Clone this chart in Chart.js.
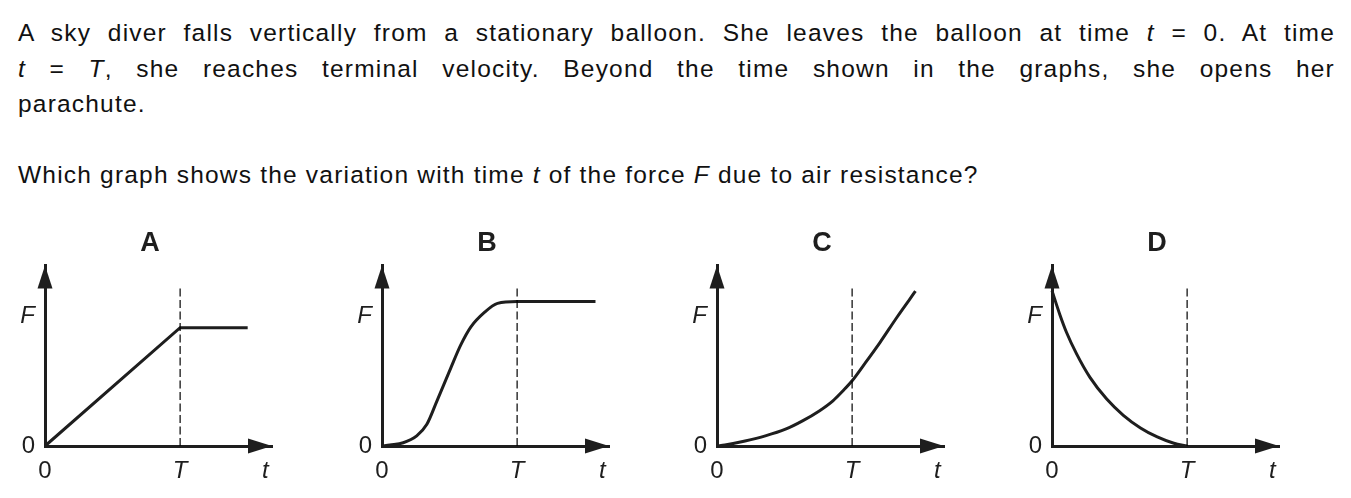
<html>
<head>
    <meta name="viewport" content="width=device-width, initial-scale=1.0">
    <title>Sky diver - air resistance graphs</title>
    <style>
        body { margin: 0; background: #fff; width: 1351px; height: 498px; position: relative; overflow: hidden; }
        .q { position: absolute; left: 18px; width: 1317px; font-family: "Liberation Sans", Arial, sans-serif; font-size: 24.5px; letter-spacing: 1.2px; line-height: 35.5px; color: #111; }
        .q div { white-space: nowrap; }
        .j { text-align: justify; text-align-last: justify; }
        .panel { position: absolute; top: 220px; }
    </style>
</head>
<body>
    <div class="q" style="top:15px">
        <div class="j">A sky diver falls vertically from a stationary balloon. She leaves the balloon at time <i>t</i> = 0. At time</div>
        <div class="j"><i>t</i> = <i>T</i>, she reaches terminal velocity. Beyond the time shown in the graphs, she opens her</div>
        <div>parachute.</div>
    </div>
    <div class="q" style="top:157px">
        <div>Which graph shows the variation with time <i>t</i> of the force <i>F</i> due to air resistance?</div>
    </div>
    <canvas class="panel" id="chartA" width="300" height="278" style="left:0px"></canvas>
    <canvas class="panel" id="chartB" width="300" height="278" style="left:337px"></canvas>
    <canvas class="panel" id="chartC" width="300" height="278" style="left:672px"></canvas>
    <canvas class="panel" id="chartD" width="300" height="278" style="left:1007px"></canvas>
</body>
<script src="https://cdn.jsdelivr.net/npm/chart.js"></script>
<script>
    // time in units of T, force in arbitrary units (axis top = 10)
    const timeTicks = [0, 1, 1.63]
    const timeLabels = ['0', 'T', 't']
    const forceTicks = [0, 7.2]
    const forceLabels = ['0', 'F']
    const termTime = [1, 1]
    const termLine = [0, 8.8]

    const aTime = [0, 1, 1.5]
    const aForce = [0, 6.55, 6.55]

    const bTime = [0, 0.058, 0.157, 0.257, 0.332, 0.407, 0.508, 0.583, 0.658, 0.758, 0.855, 1, 1.58]
    const bForce = [0, 0.06, 0.18, 0.56, 1.2, 2.5, 4.3, 5.6, 6.6, 7.4, 7.9, 8.0, 8.0]

    const cTime = [0, 0.058, 0.208, 0.358, 0.507, 0.633, 0.757, 0.858, 0.933, 1, 1.082, 1.207, 1.332, 1.469]
    const cForce = [0, 0.06, 0.28, 0.56, 0.93, 1.39, 1.94, 2.5, 3.06, 3.61, 4.44, 5.74, 7.13, 8.57]

    const dTime = [0, 0.057, 0.107, 0.182, 0.281, 0.405, 0.528, 0.655, 0.779, 0.902, 1]
    const dForce = [8.6, 7.3, 6.3, 5.1, 3.8, 2.6, 1.7, 1.0, 0.5, 0.15, 0]

    const INK = '#1e1e1e'
    const FONT = '"Liberation Sans", Arial, sans-serif'

    const pts = (xs, ys) => xs.map((x, i) => ({ x: x, y: ys[i] }))

    // arrow heads at the ends of both axes
    const arrows = {
        id: 'arrows',
        afterLayout(chart) {
            // y scale is narrow (for title centring), let its labels use the left padding
            chart.scales.y.left = 0
        },
        afterDraw(chart) {
            const c = chart.ctx
            const xs = chart.scales.x, ys = chart.scales.y
            const ox = xs.getPixelForValue(xs.min), oy = ys.getPixelForValue(ys.min)
            const tx = xs.getPixelForValue(xs.max), ty = ys.getPixelForValue(ys.max)
            c.save()
            c.fillStyle = INK
            c.beginPath()
            c.moveTo(ox, ty)
            c.lineTo(ox - 7.5, ty + 23)
            c.lineTo(ox + 7.5, ty + 23)
            c.closePath()
            c.fill()
            c.beginPath()
            c.moveTo(tx, oy)
            c.lineTo(tx - 24, oy - 7.5)
            c.lineTo(tx - 24, oy + 7.5)
            c.closePath()
            c.fill()
            c.restore()
        }
    }

    const draw = (id, title, xs, ys, smooth) => {
        const ctx = document.getElementById(id).getContext('2d')
        new Chart(ctx, {
            type: 'line',
            data: {
                datasets: [{
                    data: pts(termTime, termLine),
                    borderColor: '#000',
                    borderWidth: 1.2,
                    borderDash: [8, 3.5],
                    pointRadius: 0,
                    tension: 0
                }, {
                    data: pts(xs, ys),
                    borderColor: INK,
                    borderWidth: 3,
                    pointRadius: 0,
                    cubicInterpolationMode: smooth ? 'monotone' : 'default',
                    tension: 0,
                    clip: false
                }]
            },
            options: {
                responsive: false,
                animation: false,
                devicePixelRatio: 1,
                layout: { padding: { top: 0, right: 28, left: 28, bottom: 0 } },
                plugins: {
                    legend: { display: false },
                    tooltip: { enabled: false },
                    title: {
                        display: true,
                        text: title,
                        color: INK,
                        font: { family: FONT, size: 27, weight: 'bold', lineHeight: 1.2 },
                        padding: { top: 7, bottom: 6 }
                    }
                },
                scales: {
                    x: {
                        type: 'linear',
                        min: 0,
                        max: 1.68,
                        grid: { display: false, drawTicks: false },
                        border: { display: true, color: INK, width: 3 },
                        afterBuildTicks: (s) => { s.ticks = timeTicks.map(v => ({ value: v })) },
                        afterFit: (s) => { s.height = 52 },
                        ticks: {
                            autoSkip: false,
                            maxRotation: 0,
                            padding: 11,
                            color: INK,
                            font: (c) => ({ family: FONT, size: 24, style: c.index ? 'italic' : 'normal' }),
                            callback: (v, i) => timeLabels[i]
                        }
                    },
                    y: {
                        type: 'linear',
                        min: 0,
                        max: 10,
                        grid: { display: false, drawTicks: false },
                        border: { display: true, color: INK, width: 3 },
                        afterBuildTicks: (s) => { s.ticks = forceTicks.map(v => ({ value: v })) },
                        afterFit: (s) => { s.width = 17 },
                        ticks: {
                            autoSkip: false,
                            padding: 10,
                            color: INK,
                            font: (c) => ({ family: FONT, size: 24, style: c.index ? 'italic' : 'normal' }),
                            callback: (v, i) => forceLabels[i]
                        }
                    }
                }
            },
            plugins: [arrows]
        })
    }

    draw('chartA', 'A', aTime, aForce, false)
    draw('chartB', 'B', bTime, bForce, true)
    draw('chartC', 'C', cTime, cForce, true)
    draw('chartD', 'D', dTime, dForce, true)
</script>
</html>
